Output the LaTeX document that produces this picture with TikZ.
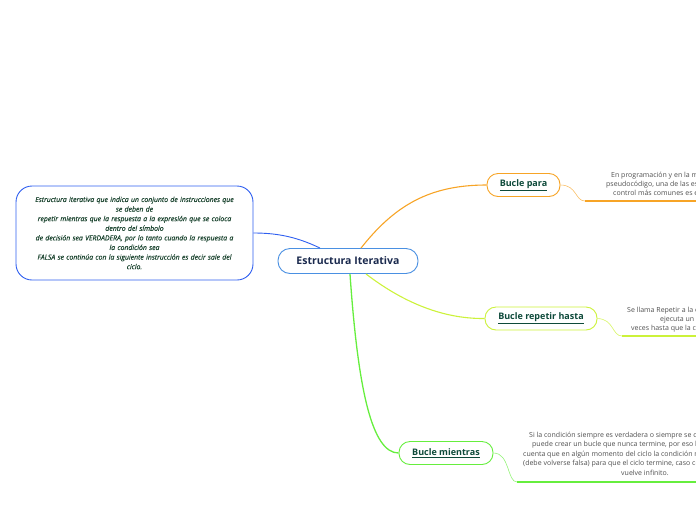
\documentclass[tikz,border=0pt]{standalone}
\usepackage{fontspec}
\setmainfont{Open Sans}
\newfontfamily\leftfont[FakeBold=0.4]{Open Sans}
\definecolor{centralblue}{HTML}{4A90E2}
\definecolor{leftblue}{HTML}{2F5FF0}
\definecolor{navy}{HTML}{1B2A4E}
\definecolor{darkgreen}{HTML}{1C4530}
\definecolor{labelgreen}{HTML}{0E4A3A}
\definecolor{descgray}{HTML}{505050}
\definecolor{orangeb}{HTML}{F7A426}
\definecolor{limeb}{HTML}{CCF23A}
\definecolor{greenb}{HTML}{66EE3E}
\begin{document}
\begin{tikzpicture}[x=1pt,y=-1pt,
  txt/.style={font=\fontsize{7}{8}\selectfont, text=descgray, inner sep=0pt, anchor=mid west},
  branch/.style={rounded corners=11pt, draw, line width=0.9pt, fill=white, minimum height=23pt,
    font=\bfseries\fontsize{9}{10}\selectfont, text=labelgreen, inner sep=2pt},
  curve/.style={line width=0.6pt},
  baseline/.style={line width=1.5pt}]
\useasboundingbox (0,0) rectangle (696,520);

\node[draw=centralblue, line width=0.9pt, rounded corners=12pt, fill=white,
  minimum width=140pt, minimum height=25pt,
  font=\bfseries\fontsize{10.5}{12}\selectfont, text=navy] (c) at (348,261) {Estructura Iterativa};

\node[draw=leftblue, line width=0.9pt, rounded corners=16pt, fill=white,
  minimum width=237pt, minimum height=94pt, text width=225pt, align=center,
  font=\leftfont\itshape\fontsize{6.9}{9.6}\selectfont, text=darkgreen] (l) at (134.5,233)
  {Estructura iterativa que indica un conjunto de instrucciones que\\se deben de\\
   repetir mientras que la respuesta a la expresión que se coloca\\dentro del símbolo\\
   de decisión sea VERDADERA, por lo tanto cuando la respuesta a\\la condición sea\\
   FALSA se continúa con la siguiente instrucción es decir sale del\\ciclo.};

\node[branch, draw=orangeb, minimum width=73pt] (bp) at (523.5,185) {\underline{Bucle para}};
\node[branch, draw=limeb, minimum width=112pt] (br) at (541,318.5) {\underline{Bucle repetir hasta}};
\node[branch, draw=greenb, minimum width=94pt] (bm) at (446,453) {\underline{Bucle mientras}};

\draw[leftblue, line width=0.9pt] ([xshift=-28pt]c.north) .. controls (295,236) and (275,233) .. (l.east);
\draw[orangeb, line width=1.1pt] ([xshift=13pt]c.north) .. controls (395,205) and (430,185) .. (bp.west);
\draw[limeb, line width=1.1pt] ([xshift=18pt]c.south) .. controls (400,300) and (440,319) .. (br.west);
\draw[greenb, line width=1.3pt] ([xshift=2pt]c.south) .. controls (358,390) and (372,453) .. (bm.west);

\coordinate (pk) at (585,201); \coordinate (pe) at (696,201);
\coordinate (rk) at (622,336); \coordinate (re) at (696,336);
\coordinate (mk) at (517,482); \coordinate (me) at (696,482);
\draw[orangeb!70, curve] (bp.east) .. controls (577,185) and (575,201) .. (pk);
\draw[orangeb, baseline] (pk) -- (pe);
\draw[limeb!80, curve] (br.east) .. controls (614,319) and (612,336) .. (rk);
\draw[limeb, baseline] (rk) -- (re);
\draw[greenb!70, curve] (bm.east) .. controls (510,453) and (507,482) .. (mk);
\draw[greenb, baseline] (mk) -- (me);

\node[txt] (p1) at (611,175) {En programación y en la mayoría de los lenguajes};
\node[txt] (p2) at (606,184) {pseudocódigo, una de las estructuras de};
\node[txt] (p3) at (613,193) {control más comunes es el bucle para};

\node[txt] (r1) at (627,310) {Se llama Repetir a la estructura algorítmica que se};
\node[txt] (r2) at (660,319) {ejecuta un número definido de};
\node[txt] (r3) at (631,328) {veces hasta que la condición se cumpla};

\node[txt] (m1) at (529,435) {Si la condición siempre es verdadera o siempre se cumple, se};
\node[txt] (m2) at (532,444) {puede crear un bucle que nunca termine, por eso hay que tener en};
\node[txt] (m3) at (523,454) {cuenta que en algún momento del ciclo la condición no debe cumplirse};
\node[txt] (m4) at (523,463) {(debe volverse falsa) para que el ciclo termine, caso contrario el ciclo se};
\node[txt] (m5) at (621,473) {vuelve infinito.};
\end{tikzpicture}
\end{document}
